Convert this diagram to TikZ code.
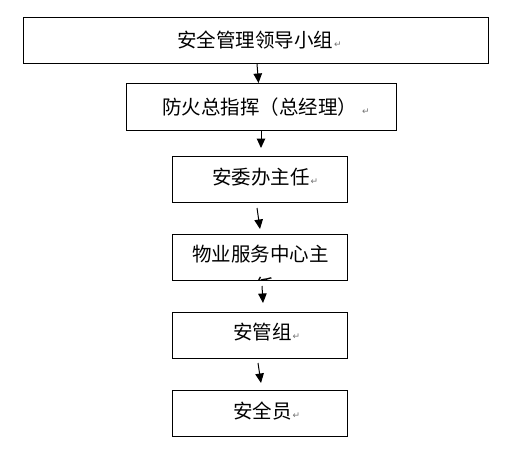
\documentclass[tikz,border=0pt]{standalone}
\usepackage{fontspec}
\newfontfamily\cjk{Noto Sans CJK SC}
\newfontfamily\dv{DejaVu Sans}
\usetikzlibrary{arrows.meta}
\newcommand{\retmark}{\hspace{1pt}{\dv\color{black!55}\fontsize{9}{9}\selectfont ↵}}
\tikzset{
  box/.style={draw=black, line width=1pt, rectangle, inner sep=0pt},
  txt/.style={anchor=west, inner sep=0pt, font=\cjk\fontsize{19.5}{19.5}\selectfont},
  arr/.style={line width=1pt, -{Triangle[length=9.5pt,width=8.5pt]}}
}
\begin{document}
\begin{tikzpicture}[x=1pt,y=-1pt]
\useasboundingbox (0,0) rectangle (518,468);
\fill[white] (0,0) rectangle (518,468);
% boxes
\node[box, minimum width=465pt, minimum height=46pt] (b1) at (255.5,41) {};
\node[box, minimum width=270pt, minimum height=46pt] (b2) at (261,107) {};
\node[box, minimum width=175pt, minimum height=46pt] (b3) at (259.5,179) {};
\node[box, minimum width=175pt, minimum height=46pt] (b4) at (259.5,257) {};
\node[box, minimum width=175pt, minimum height=46pt] (b5) at (259.5,335) {};
\node[box, minimum width=175pt, minimum height=46pt] (b6) at (259.5,413) {};
% texts
\node[txt] (t1) at (177,40) {安全管理领导小组\retmark};
\node[txt] (t2) at (162,107) {防火总指挥（总经理）\hspace{4pt}\retmark};
\node[txt] (t3) at (212,177) {安委办主任\retmark};
\begin{scope}
  \clip (b4.south west) rectangle (b4.north east);
  \node[txt] (t4a) at (192,254) {物业服务中心主};
  \node[txt] (t4b) at (254,286) {任\retmark};
\end{scope}
\node[txt] (t5) at (233,332) {安管组\retmark};
\node[txt] (t6) at (233,411) {安全员\retmark};
% arrow ends
\coordinate (a1s) at (257,64);   \coordinate (a1e) at (258.5,83);
\coordinate (a2s) at (261,130);  \coordinate (a2e) at (261,148);
\coordinate (a3s) at (257,208);  \coordinate (a3e) at (260,229);
\coordinate (a4s) at (262,286);  \coordinate (a4e) at (263,303);
\coordinate (a5s) at (258,363);  \coordinate (a5e) at (261,383);
\draw[arr] (a1s) -- (a1e);
\draw[arr] (a2s) -- (a2e);
\draw[arr] (a3s) -- (a3e);
\draw[arr] (a4s) -- (a4e);
\draw[arr] (a5s) -- (a5e);
\end{tikzpicture}
\end{document}
